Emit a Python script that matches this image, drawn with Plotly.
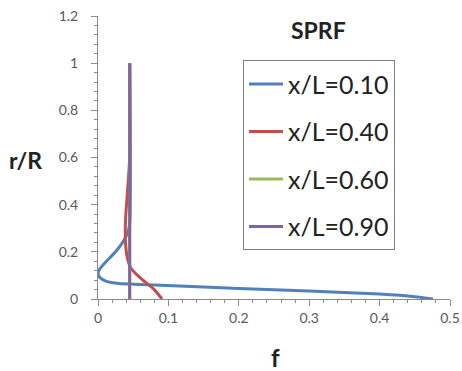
import plotly.graph_objects as go

# Data: f (x) vs r/R (y)
f_010 = [0.476, 0.45, 0.40, 0.30, 0.20, 0.116, 0.06, 0.03, 0.012, 0.003, 0.0, 0.003, 0.012, 0.025, 0.035, 0.042, 0.045, 0.045]
r_010 = [0.0, 0.01, 0.021, 0.034, 0.044, 0.055, 0.062, 0.066, 0.075, 0.09, 0.11, 0.13, 0.16, 0.20, 0.24, 0.28, 0.32, 1.0]

f_040 = [0.091, 0.087, 0.080, 0.070, 0.060, 0.052, 0.046, 0.042, 0.039, 0.039, 0.040, 0.041, 0.043, 0.045, 0.045]
r_040 = [0.0, 0.015, 0.04, 0.065, 0.09, 0.112, 0.135, 0.17, 0.24, 0.33, 0.38, 0.42, 0.5, 0.6, 1.0]

f_060 = [0.045, 0.045]
r_060 = [0.0, 1.0]

f_090 = [0.045, 0.045]
r_090 = [0.0, 1.0]

names = ["x/L=0.10", "x/L=0.40", "x/L=0.60", "x/L=0.90"]
colors = ["#4F81BD", "#C0504D", "#9BBB59", "#8064A2"]
series = [(f_010, r_010), (f_040, r_040), (f_060, r_060), (f_090, r_090)]

x_ticks = [0, 0.1, 0.2, 0.3, 0.4, 0.5]
x_ticklabels = ["0", "0.1", "0.2", "0.3", "0.4", "0.5"]
y_ticks = [0, 0.2, 0.4, 0.6, 0.8, 1.0, 1.2]
y_ticklabels = ["0", "0.2", "0.4", "0.6", "0.8", "1", "1.2"]

fig = go.Figure()
for i, ((fx, ry), name, col) in enumerate(zip(series, names, colors)):
    fig.add_trace(go.Scatter(
        x=fx, y=ry, mode="lines", name=name, legendgroup=name,
        line=dict(color=col, width=3, shape="spline", smoothing=0.6),
    ))

axis_col = "#8C8C8C"
font_fam = "Lato, Liberation Sans, sans-serif"
tick_font = dict(family=font_fam, size=14, color="#595959")

fig.update_layout(
    width=462, height=371,
    margin=dict(l=98, r=12, t=16, b=72, autoexpand=False),
    paper_bgcolor="white", plot_bgcolor="white",
    showlegend=True,
    legend=dict(
        x=0.412, y=0.844, xanchor="left", yanchor="top",
        bgcolor="white", bordercolor="#7F7F7F", borderwidth=1,
        font=dict(family=font_fam, size=25, color="#222222"),
        tracegroupgap=12, itemwidth=34,
    ),
    xaxis=dict(
        range=[0, 0.5], tickvals=x_ticks, ticktext=x_ticklabels, automargin=False,
        showgrid=False, zeroline=False, showline=True, linecolor=axis_col, linewidth=1,
        ticks="outside", ticklen=6, tickcolor=axis_col, tickfont=tick_font,
        ticklabelstandoff=0,
        minor=dict(dtick=0.02, ticks="outside", ticklen=3, tickcolor=axis_col),
    ),
    yaxis=dict(
        range=[0, 1.2], tickvals=y_ticks, ticktext=y_ticklabels, automargin=False,
        showgrid=False, zeroline=False, showline=True, linecolor=axis_col, linewidth=1,
        ticks="outside", ticklen=6, tickcolor=axis_col, tickfont=tick_font,
        ticklabelstandoff=10,
        minor=dict(dtick=0.04, ticks="outside", ticklen=3, tickcolor=axis_col),
    ),
    annotations=[
        dict(text="<b>SPRF</b>", x=0.625, y=0.95, xref="paper", yref="paper",
             xanchor="center", yanchor="middle",
             showarrow=False, font=dict(family=font_fam, size=23, color="#222222")),
        dict(text="<b>r/R</b>", x=-0.258, y=0.49, xref="paper", yref="paper",
             xanchor="left", yanchor="middle",
             showarrow=False, font=dict(family=font_fam, size=23, color="#222222")),
        dict(text="<b>f</b>", x=0.504, y=-0.208, xref="paper", yref="paper",
             xanchor="center", yanchor="middle",
             showarrow=False, font=dict(family=font_fam, size=24, color="#222222")),
    ],
)

fig.write_html("out.html")
